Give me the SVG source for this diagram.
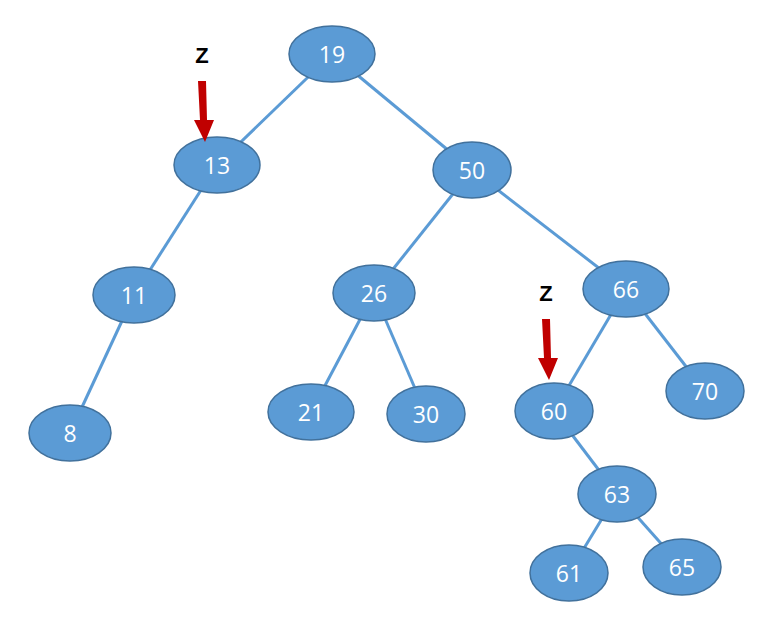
<svg xmlns="http://www.w3.org/2000/svg" width="780" height="618" viewBox="0 0 780 618">
<style>
.n ellipse{fill:#5b9bd5;stroke:#41719c;stroke-width:1.5}
.n text{fill:#fff;font-family:"Open Sans","Liberation Sans",sans-serif;font-size:23px;text-anchor:middle;dominant-baseline:central}
.e line{stroke:#5b9bd5;stroke-width:3}
.z{font-family:"Liberation Sans",sans-serif;font-size:22px;font-weight:bold;text-anchor:middle}
.a{fill:#c00000}
</style>
<rect width="780" height="618" fill="#fff"/>
<g id="connectors" class="e">
<line x1="332" y1="54" x2="217" y2="165"/>
<line x1="332" y1="54" x2="472" y2="170"/>
<line x1="217" y1="165" x2="134" y2="295"/>
<line x1="134" y1="295" x2="70" y2="433"/>
<line x1="472" y1="170" x2="374" y2="293"/>
<line x1="472" y1="170" x2="626" y2="289"/>
<line x1="374" y1="293" x2="311" y2="412"/>
<line x1="374" y1="293" x2="426" y2="414"/>
<line x1="626" y1="289" x2="554" y2="411"/>
<line x1="626" y1="289" x2="705" y2="391"/>
<line x1="554" y1="411" x2="617" y2="494"/>
<line x1="617" y1="494" x2="569" y2="573"/>
<line x1="617" y1="494" x2="682" y2="567"/>
</g>
<g id="n19" class="n"><ellipse cx="332" cy="54" rx="43" ry="28"/><text x="332" y="54">19</text></g>
<g id="n13" class="n"><ellipse cx="217" cy="165" rx="43" ry="28"/><text x="217" y="165">13</text></g>
<g id="n50" class="n"><ellipse cx="472" cy="170" rx="39" ry="28"/><text x="472" y="170">50</text></g>
<g id="n11" class="n"><ellipse cx="134" cy="295" rx="41" ry="28"/><text x="134" y="295">11</text></g>
<g id="n26" class="n"><ellipse cx="374" cy="293" rx="41" ry="28"/><text x="374" y="293">26</text></g>
<g id="n66" class="n"><ellipse cx="626" cy="289" rx="43" ry="28"/><text x="626" y="289">66</text></g>
<g id="n8" class="n"><ellipse cx="70" cy="433" rx="41" ry="28"/><text x="70" y="433">8</text></g>
<g id="n21" class="n"><ellipse cx="311" cy="412" rx="43" ry="28"/><text x="311" y="412">21</text></g>
<g id="n30" class="n"><ellipse cx="426" cy="414" rx="39" ry="28"/><text x="426" y="414">30</text></g>
<g id="n60" class="n"><ellipse cx="554" cy="411" rx="39" ry="28"/><text x="554" y="411">60</text></g>
<g id="n70" class="n"><ellipse cx="705" cy="391" rx="39" ry="28"/><text x="705" y="391">70</text></g>
<g id="n63" class="n"><ellipse cx="617" cy="494" rx="39" ry="28"/><text x="617" y="494">63</text></g>
<g id="n61" class="n"><ellipse cx="569" cy="573" rx="39" ry="28"/><text x="569" y="573">61</text></g>
<g id="n65" class="n"><ellipse cx="682" cy="567" rx="39" ry="28"/><text x="682" y="567">65</text></g>
<g id="z1"><text class="z" x="202" y="63">Z</text><polygon class="a" points="198,81 206,81 207,120 214,120 205,142 194,120 200,120"/></g>
<g id="z2"><text class="z" x="546" y="301">Z</text><polygon class="a" points="542,319 550,319 551,358 558,358 549,380 538,358 544,358"/></g>
</svg>
